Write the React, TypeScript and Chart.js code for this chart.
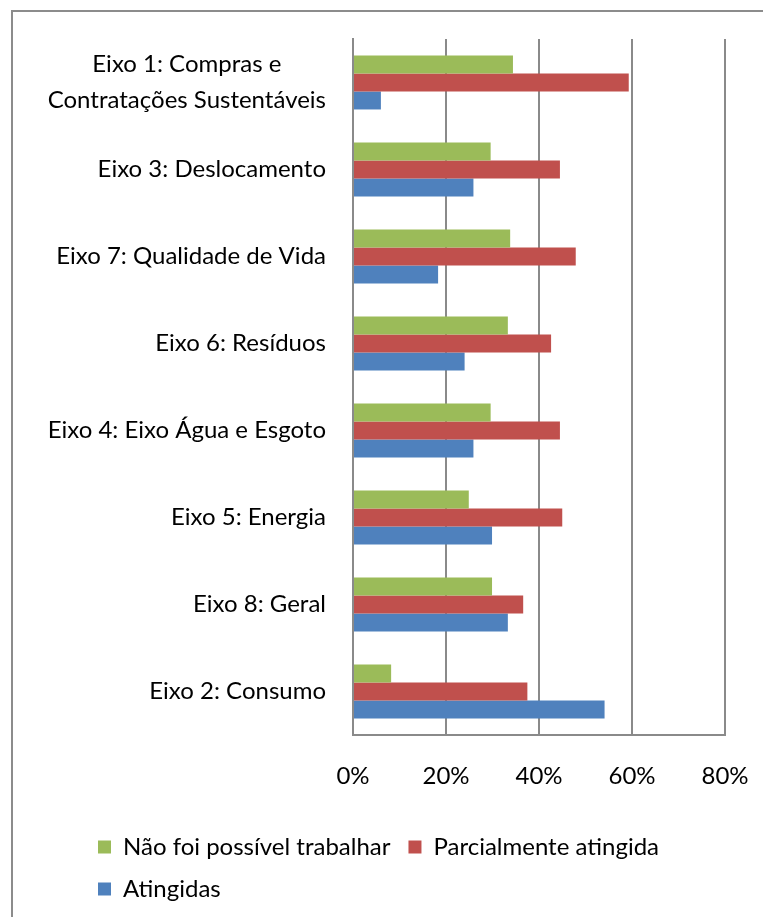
import React, { useEffect, useRef } from 'react';
import { Chart, registerables } from 'chart.js';

Chart.register(...registerables);

const categories: (string | string[])[] = [
  ['Eixo 1: Compras e', 'Contratações Sustentáveis'],
  'Eixo 3: Deslocamento',
  'Eixo 7: Qualidade de Vida',
  'Eixo 6: Resíduos',
  'Eixo 4: Eixo Água e Esgoto',
  'Eixo 5: Energia',
  'Eixo 8: Geral',
  'Eixo 2: Consumo',
];

const seriesNames = ['Não foi possível trabalhar', 'Parcialmente atingida', 'Atingidas'];
const naoFoiPossivel = [34.4, 29.6, 33.8, 33.3, 29.6, 24.9, 29.9, 8.2];
const parcialmente = [59.3, 44.5, 47.9, 42.6, 44.5, 45.0, 36.6, 37.5];
const atingidas = [6.0, 25.9, 18.3, 24.0, 25.9, 29.9, 33.3, 54.1];
const xMin = 0;
const xMax = 80;
const xStep = 20;

const FONT = 'Lato';
const FS = 24;
const PAD_LEFT = 20;
const LEG_PAD = 18;
const LEGEND_SHIFT = 47;

const legendShift = {
  id: 'legendShift',
  afterLayout(chart: any) {
    const lg = chart.legend;
    if (lg) {
      lg.left += LEGEND_SHIFT;
      lg.right += LEGEND_SHIFT;
    }
  },
};

// center the lines of multi-line category labels on each other (right-aligned block)
const centerMultiline = {
  id: 'centerMultiline',
  beforeDraw(chart: any) {
    const scale = chart.scales.y;
    if (!scale) return;
    const items = scale.getLabelItems(chart.chartArea);
    const ctx = chart.ctx;
    items.forEach((item: any) => {
      if (item._centered || !Array.isArray(item.label)) return;
      ctx.save();
      ctx.font = item.font.string;
      const w = Math.max(...item.label.map((l: string) => ctx.measureText(l).width));
      ctx.restore();
      item.options.textAlign = 'center';
      item.options.translation = [item.options.translation[0] - w / 2, item.options.translation[1]];
      item._centered = true;
    });
  },
};

export default function App() {
  const ref = useRef<HTMLCanvasElement | null>(null);

  useEffect(() => {
    if (!ref.current) return;
    const chart = new Chart(ref.current, {
      type: 'bar',
      data: {
        labels: categories as any,
        datasets: [
          { label: seriesNames[0], data: naoFoiPossivel, backgroundColor: '#9BBB59', borderWidth: 0 },
          { label: seriesNames[1], data: parcialmente, backgroundColor: '#C0504D', borderWidth: 0 },
          { label: seriesNames[2], data: atingidas, backgroundColor: '#4F81BD', borderWidth: 0 },
        ],
      },
      options: {
        indexAxis: 'y',
        responsive: false,
        animation: false,
        maintainAspectRatio: false,
        datasets: { bar: { categoryPercentage: 0.62, barPercentage: 1.0 } },
        layout: { padding: { top: 27, right: 38, left: PAD_LEFT, bottom: 6 } },
        scales: {
          x: {
            min: xMin,
            max: xMax,
            grid: { color: '#8a8a8a', lineWidth: 2, drawTicks: false },
            border: { display: true, color: '#8a8a8a', width: 2 },
            ticks: {
              stepSize: xStep,
              padding: 27,
              color: '#000',
              font: { family: FONT, size: FS },
              callback: (v: any) => v + '%',
            },
            afterFit: (s: any) => {
              s.height = 82;
              s.paddingLeft = 0;
              s.paddingRight = 0;
            },
          },
          y: {
            grid: { display: false, drawTicks: false },
            border: { display: true, color: '#8a8a8a', width: 2 },
            ticks: {
              autoSkip: false,
              padding: 27,
              color: '#000',
              font: { family: FONT, size: FS, lineHeight: 1.5 },
            },
            afterFit: (s: any) => {
              s.width = 340 - PAD_LEFT;
              s.paddingTop = 0;
              s.paddingBottom = 0;
            },
          },
        },
        plugins: {
          legend: {
            position: 'bottom',
            align: 'start',
            labels: {
              boxWidth: 13,
              boxHeight: 13,
              padding: LEG_PAD,
              color: '#000',
              font: { family: FONT, size: FS },
            },
          },
          tooltip: { enabled: false },
        },
      },
      plugins: [legendShift, centerMultiline],
    });
    return () => chart.destroy();
  }, []);

  return (
    <div
      style={{
        position: 'absolute',
        left: 11,
        top: 10,
        borderTop: '2px solid #8c8c8c',
        borderLeft: '2px solid #8c8c8c',
      }}
    >
      <canvas ref={ref} width={750} height={905} style={{ display: 'block', width: 750, height: 905 }} />
    </div>
  );
}
